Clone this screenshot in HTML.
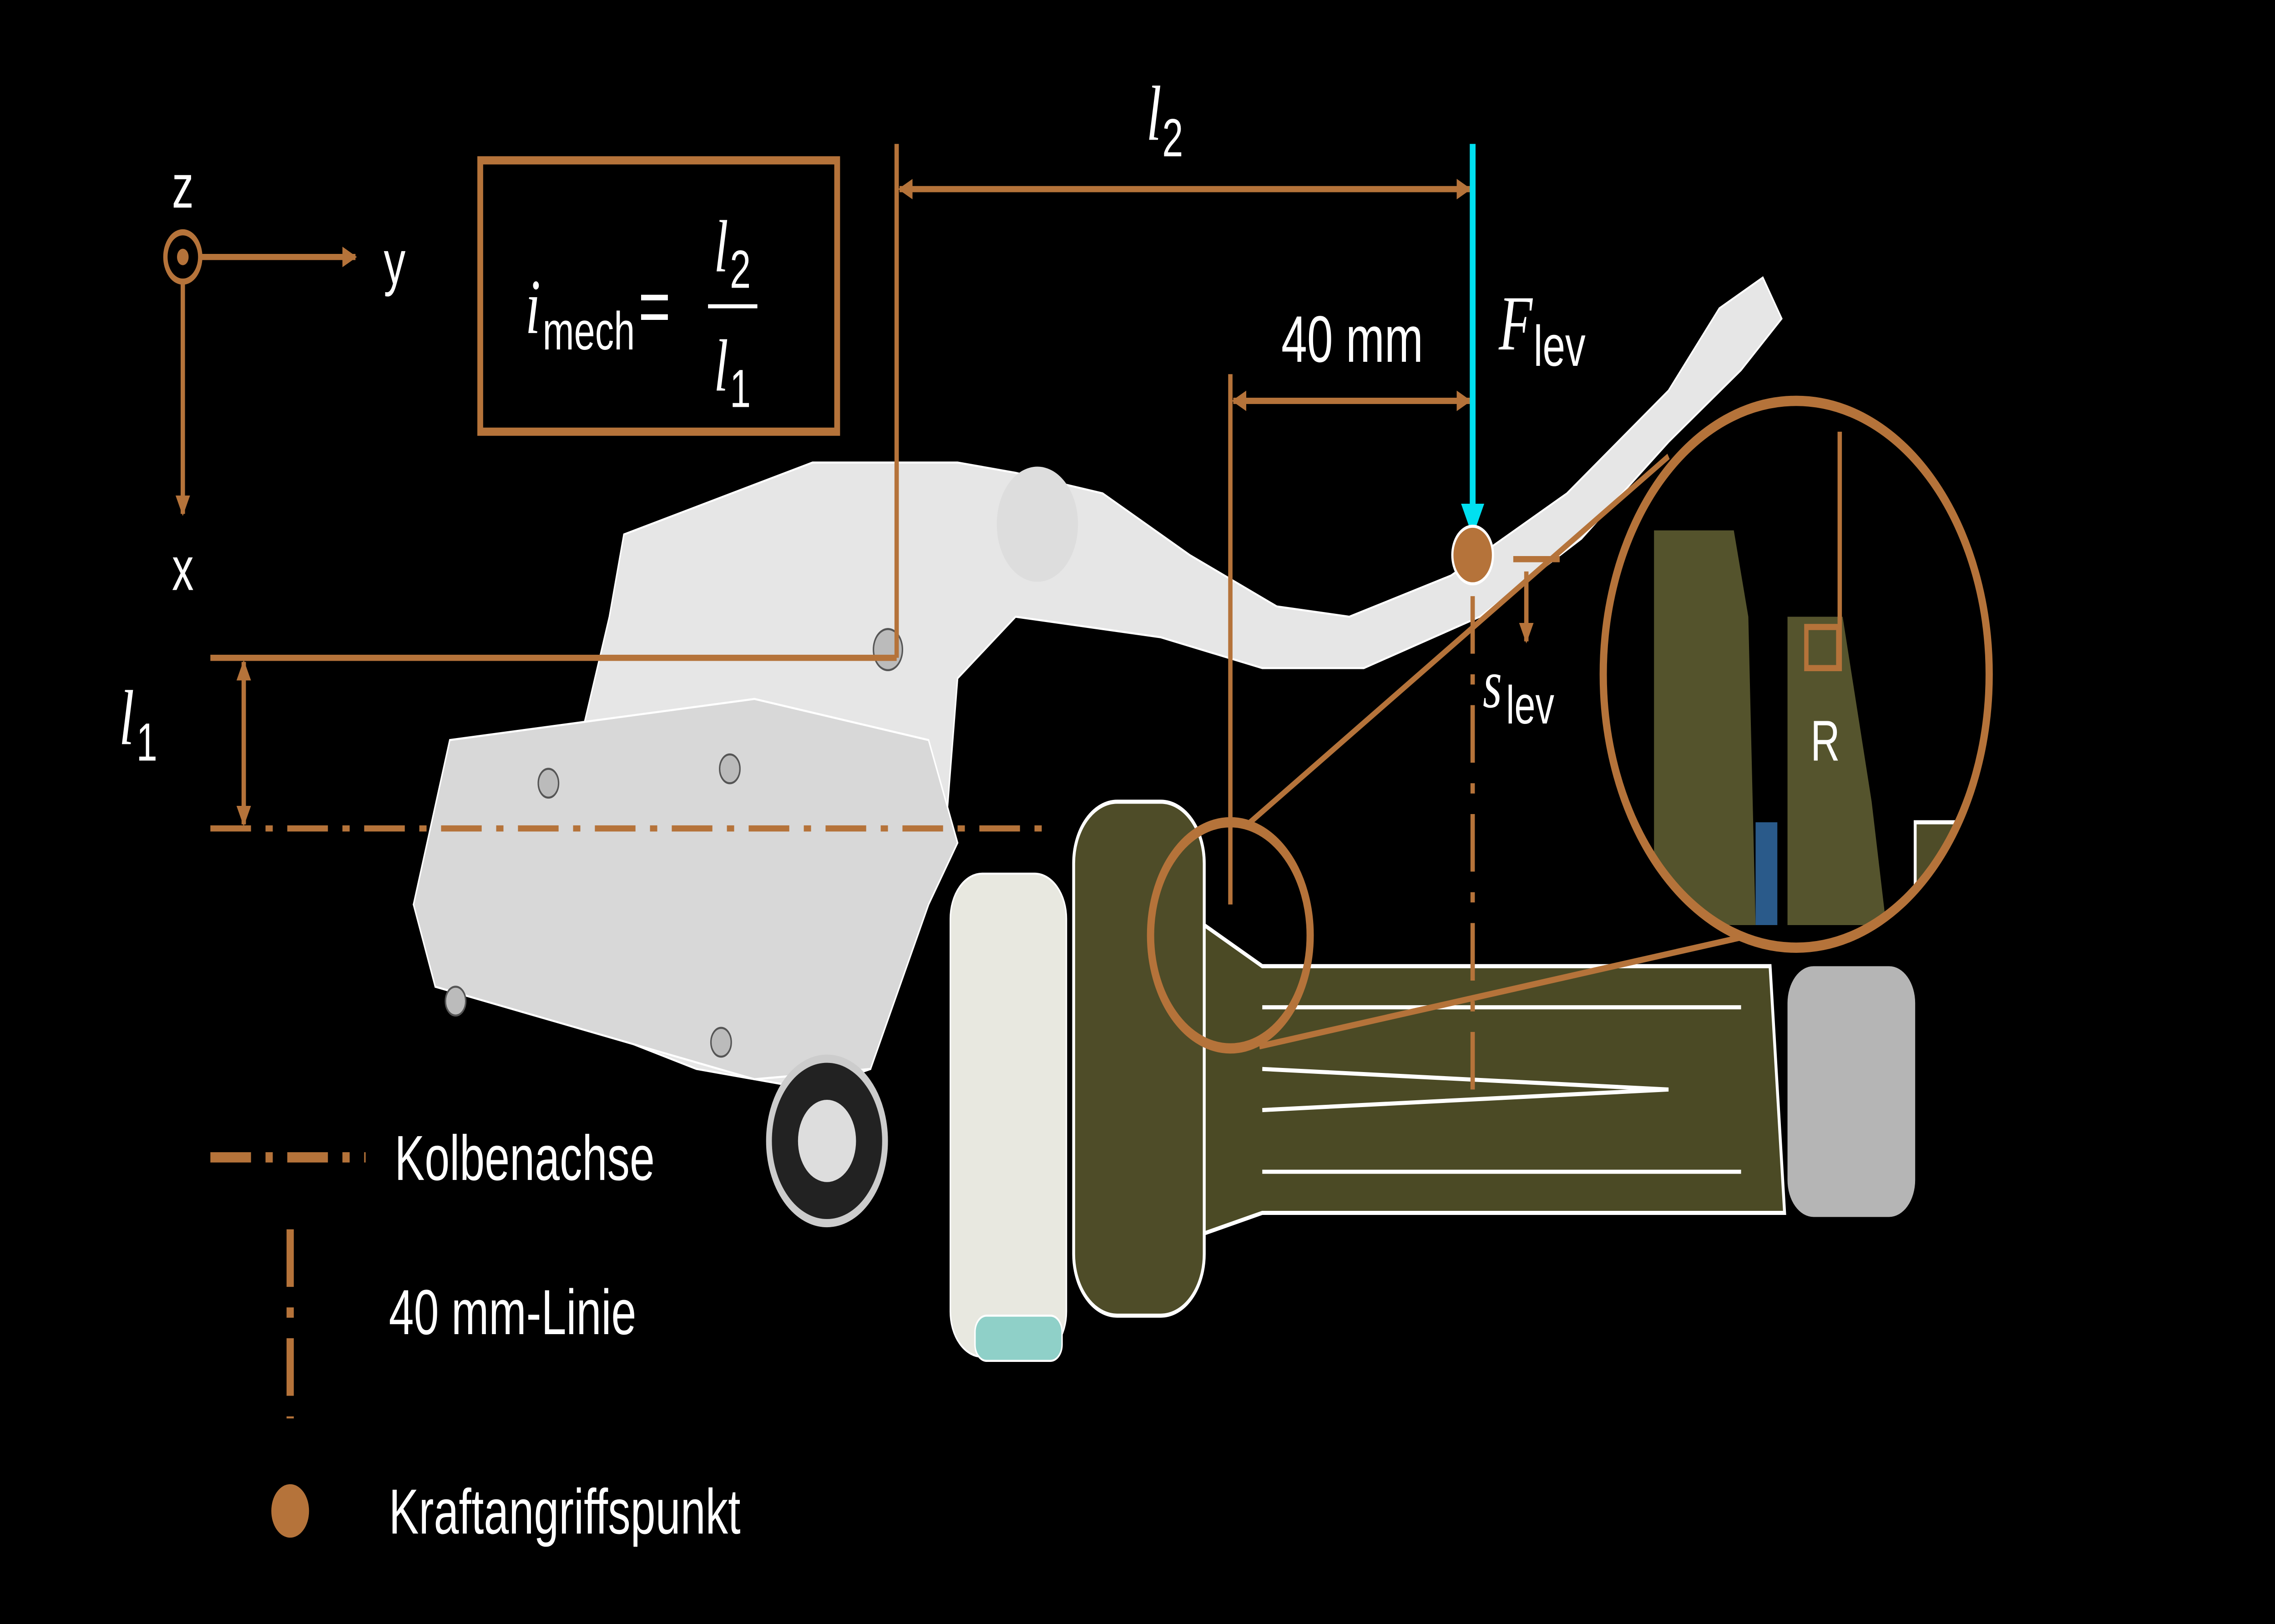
<!DOCTYPE html>
<html><head><meta charset="utf-8">
<style>
html,body{margin:0;padding:0;background:#000;width:100vw;height:100vh;overflow:hidden;}
svg{display:block;position:absolute;left:0;top:0;width:100vw;height:100vh;}
text{font-family:"Liberation Sans",sans-serif;}
.serif{font-family:"Liberation Serif",serif;font-style:italic;}
</style></head>
<body>
<svg viewBox="0 0 1568 790" preserveAspectRatio="none" xmlns="http://www.w3.org/2000/svg">
<defs>
<marker id="ab" markerWidth="10" markerHeight="10" refX="9" refY="5" orient="auto" markerUnits="userSpaceOnUse"><path d="M0,0 L10,5 L0,10 z" fill="#b5733a"/></marker>
<marker id="ac" markerWidth="16" markerHeight="16" refX="15" refY="8" orient="auto" markerUnits="userSpaceOnUse"><path d="M0,0 L16,8 L0,16 z" fill="#00e0f0"/></marker>
<clipPath id="bigc"><circle cx="1238" cy="328" r="133"/></clipPath>
</defs>
<rect width="1568" height="790" fill="#000"/>

<g fill="#e6e6e6" stroke="#fff" stroke-width="1">
<path d="M430,260 L560,225 L660,225 L700,230 L760,240 L820,270 L880,295 L930,300 L1000,280 L1080,240 L1150,190 L1185,150 L1215,135 L1228,155 L1200,180 L1150,215 L1090,262 L1020,300 L940,325 L870,325 L800,310 L700,300 L660,330 L650,420 L620,450 L600,520 L560,530 L480,520 L300,470 L285,440 L320,360 L400,360 L420,300 Z"/>
<path d="M310,360 L520,340 L640,360 L660,410 L640,440 L600,520 L520,525 L300,480 L285,440 Z" fill="#d8d8d8"/>
<rect x="655" y="425" width="80" height="235" rx="22" fill="#e8e8e0"/>
<rect x="672" y="640" width="60" height="22" rx="8" fill="#8fd0c8"/>
</g>
<circle cx="715" cy="255" r="28" fill="#ddd"/>
<circle cx="570" cy="555" r="40" fill="#222" stroke="#ccc" stroke-width="4"/>
<circle cx="570" cy="555" r="20" fill="#ddd"/>
<circle cx="378" cy="381" r="7" fill="#bbb" stroke="#555"/>
<circle cx="503" cy="374" r="7" fill="#bbb" stroke="#555"/>
<circle cx="314" cy="487" r="7" fill="#bbb" stroke="#555"/>
<circle cx="497" cy="507" r="7" fill="#bbb" stroke="#555"/>
<circle cx="612" cy="316" r="10" fill="#bbb" stroke="#555"/>

<g>
<rect x="740" y="390" width="90" height="250" rx="30" fill="#4e4c28" stroke="#fff" stroke-width="2"/>
<path d="M830,450 L870,470 L1220,470 L1230,590 L870,590 L830,600 Z" fill="#4b4a25" stroke="#fff" stroke-width="2"/>
<path d="M870,490 L1200,490 M870,520 L1150,530 L870,540 M870,570 L1200,570" stroke="#fff" stroke-width="2" fill="none"/>
<rect x="1232" y="470" width="88" height="122" rx="18" fill="#b5b5b5"/>
</g>

<g clip-path="url(#bigc)">
<rect x="1100" y="190" width="280" height="280" fill="#000"/>
<path d="M1140,258 L1195,258 L1205,300 L1210,450 L1140,450 Z" fill="#54532c"/>
<path d="M1232,300 L1270,300 L1290,390 L1300,450 L1232,450 Z" fill="#55542d"/>
<rect x="1210" y="400" width="15" height="50" fill="#2a5a8a"/>
<rect x="1320" y="400" width="35" height="40" fill="#4e4c28" stroke="#fff" stroke-width="2"/>
</g>
<circle cx="1238" cy="328" r="133" fill="none" stroke="#b5733a" stroke-width="5"/>
<path d="M1268,210 L1268,325 L1245,325" fill="none" stroke="#b5733a" stroke-width="3"/>
<rect x="1245" y="305" width="22" height="20" fill="none" stroke="#b5733a" stroke-width="3"/>
<text x="1258" y="370" fill="#fff" font-size="28" text-anchor="middle">R</text>

<ellipse cx="848" cy="455" rx="55" ry="55" fill="none" stroke="#b5733a" stroke-width="5"/>
<line x1="860" y1="401" x2="1150" y2="222" stroke="#b5733a" stroke-width="3"/>
<line x1="868" y1="509" x2="1200" y2="456" stroke="#b5733a" stroke-width="3"/>

<g stroke="#b5733a" stroke-width="3" fill="none">
<circle cx="126" cy="125" r="12"/>
<line x1="138" y1="125" x2="245" y2="125" marker-end="url(#ab)"/>
<line x1="126" y1="137" x2="126" y2="250" marker-end="url(#ab)"/>
</g>
<circle cx="126" cy="125" r="4" fill="#b5733a"/>
<text x="126" y="101" fill="#fff" font-size="30" text-anchor="middle" font-family="Liberation Serif">z</text>
<text x="272" y="138" fill="#fff" font-size="30" text-anchor="middle" font-family="Liberation Serif">y</text>
<text x="126" y="287" fill="#fff" font-size="30" text-anchor="middle" font-family="Liberation Serif">x</text>

<rect x="331" y="78" width="246" height="132" fill="none" stroke="#b5733a" stroke-width="4"/>
<text x="362" y="162" fill="#fff" font-size="38" class="serif">i</text>
<text x="374" y="170" fill="#fff" font-size="26" font-family="Liberation Serif">mech</text>
<text x="440" y="162" fill="#fff" font-size="38" font-family="Liberation Serif">=</text>
<text x="492" y="132" fill="#fff" font-size="36" class="serif">l</text><text x="503" y="140" fill="#fff" font-size="26" font-family="Liberation Serif">2</text>
<line x1="488" y1="149" x2="522" y2="149" stroke="#fff" stroke-width="2"/>
<text x="492" y="190" fill="#fff" font-size="36" class="serif">l</text><text x="503" y="198" fill="#fff" font-size="26" font-family="Liberation Serif">1</text>

<g stroke="#b5733a" stroke-width="3" fill="none">
<line x1="618" y1="70" x2="618" y2="320"/>
<line x1="620" y1="92" x2="1013" y2="92" marker-end="url(#ab)"/>
<line x1="1013" y1="92" x2="620" y2="92" marker-end="url(#ab)"/>
<line x1="848" y1="182" x2="848" y2="440"/>
<line x1="850" y1="195" x2="1013" y2="195" marker-end="url(#ab)"/>
<line x1="1013" y1="195" x2="850" y2="195" marker-end="url(#ab)"/>
<line x1="145" y1="320" x2="618" y2="320"/>
<line x1="145" y1="403" x2="720" y2="403" stroke-dasharray="28,10,5,10"/>
<line x1="168" y1="322" x2="168" y2="401" marker-end="url(#ab)"/>
<line x1="168" y1="401" x2="168" y2="322" marker-end="url(#ab)"/>
<line x1="1015" y1="290" x2="1015" y2="530" stroke-dasharray="28,10,5,10"/>
<line x1="1043" y1="272" x2="1075" y2="272"/>
<line x1="1052" y1="278" x2="1052" y2="312" marker-end="url(#ab)"/>
</g>
<text x="790" y="68" fill="#fff" font-size="38" class="serif">l</text><text x="801" y="76" fill="#fff" font-size="26" font-family="Liberation Serif">2</text>
<text x="932" y="176" fill="#fff" font-size="32" text-anchor="middle">40 mm</text>
<text x="82" y="362" fill="#fff" font-size="38" class="serif">l</text><text x="94" y="370" fill="#fff" font-size="26" font-family="Liberation Serif">1</text>

<line x1="1015" y1="70" x2="1015" y2="260" stroke="#00e0f0" stroke-width="4" marker-end="url(#ac)"/>
<text x="1033" y="170" fill="#fff" font-size="38" class="serif">F</text>
<text x="1057" y="178" fill="#fff" font-size="28" font-family="Liberation Serif">lev</text>
<circle cx="1015" cy="270" r="14" fill="#b5733a" stroke="#fff" stroke-width="1.5"/>
<text x="1022" y="344" fill="#fff" font-size="34" class="serif">s</text>
<text x="1038" y="352" fill="#fff" font-size="26" font-family="Liberation Serif">lev</text>

<line x1="145" y1="563" x2="252" y2="563" stroke="#b5733a" stroke-width="5" stroke-dasharray="28,10,5,10"/>
<text x="272" y="574" fill="#fff" font-size="31">Kolbenachse</text>
<line x1="200" y1="598" x2="200" y2="690" stroke="#b5733a" stroke-width="5" stroke-dasharray="28,10,5,10"/>
<text x="268" y="649" fill="#fff" font-size="31">40 mm-Linie</text>
<circle cx="200" cy="735" r="13" fill="#b5733a"/>
<text x="268" y="746" fill="#fff" font-size="31">Kraftangriffspunkt</text>
</svg>
</body></html>
